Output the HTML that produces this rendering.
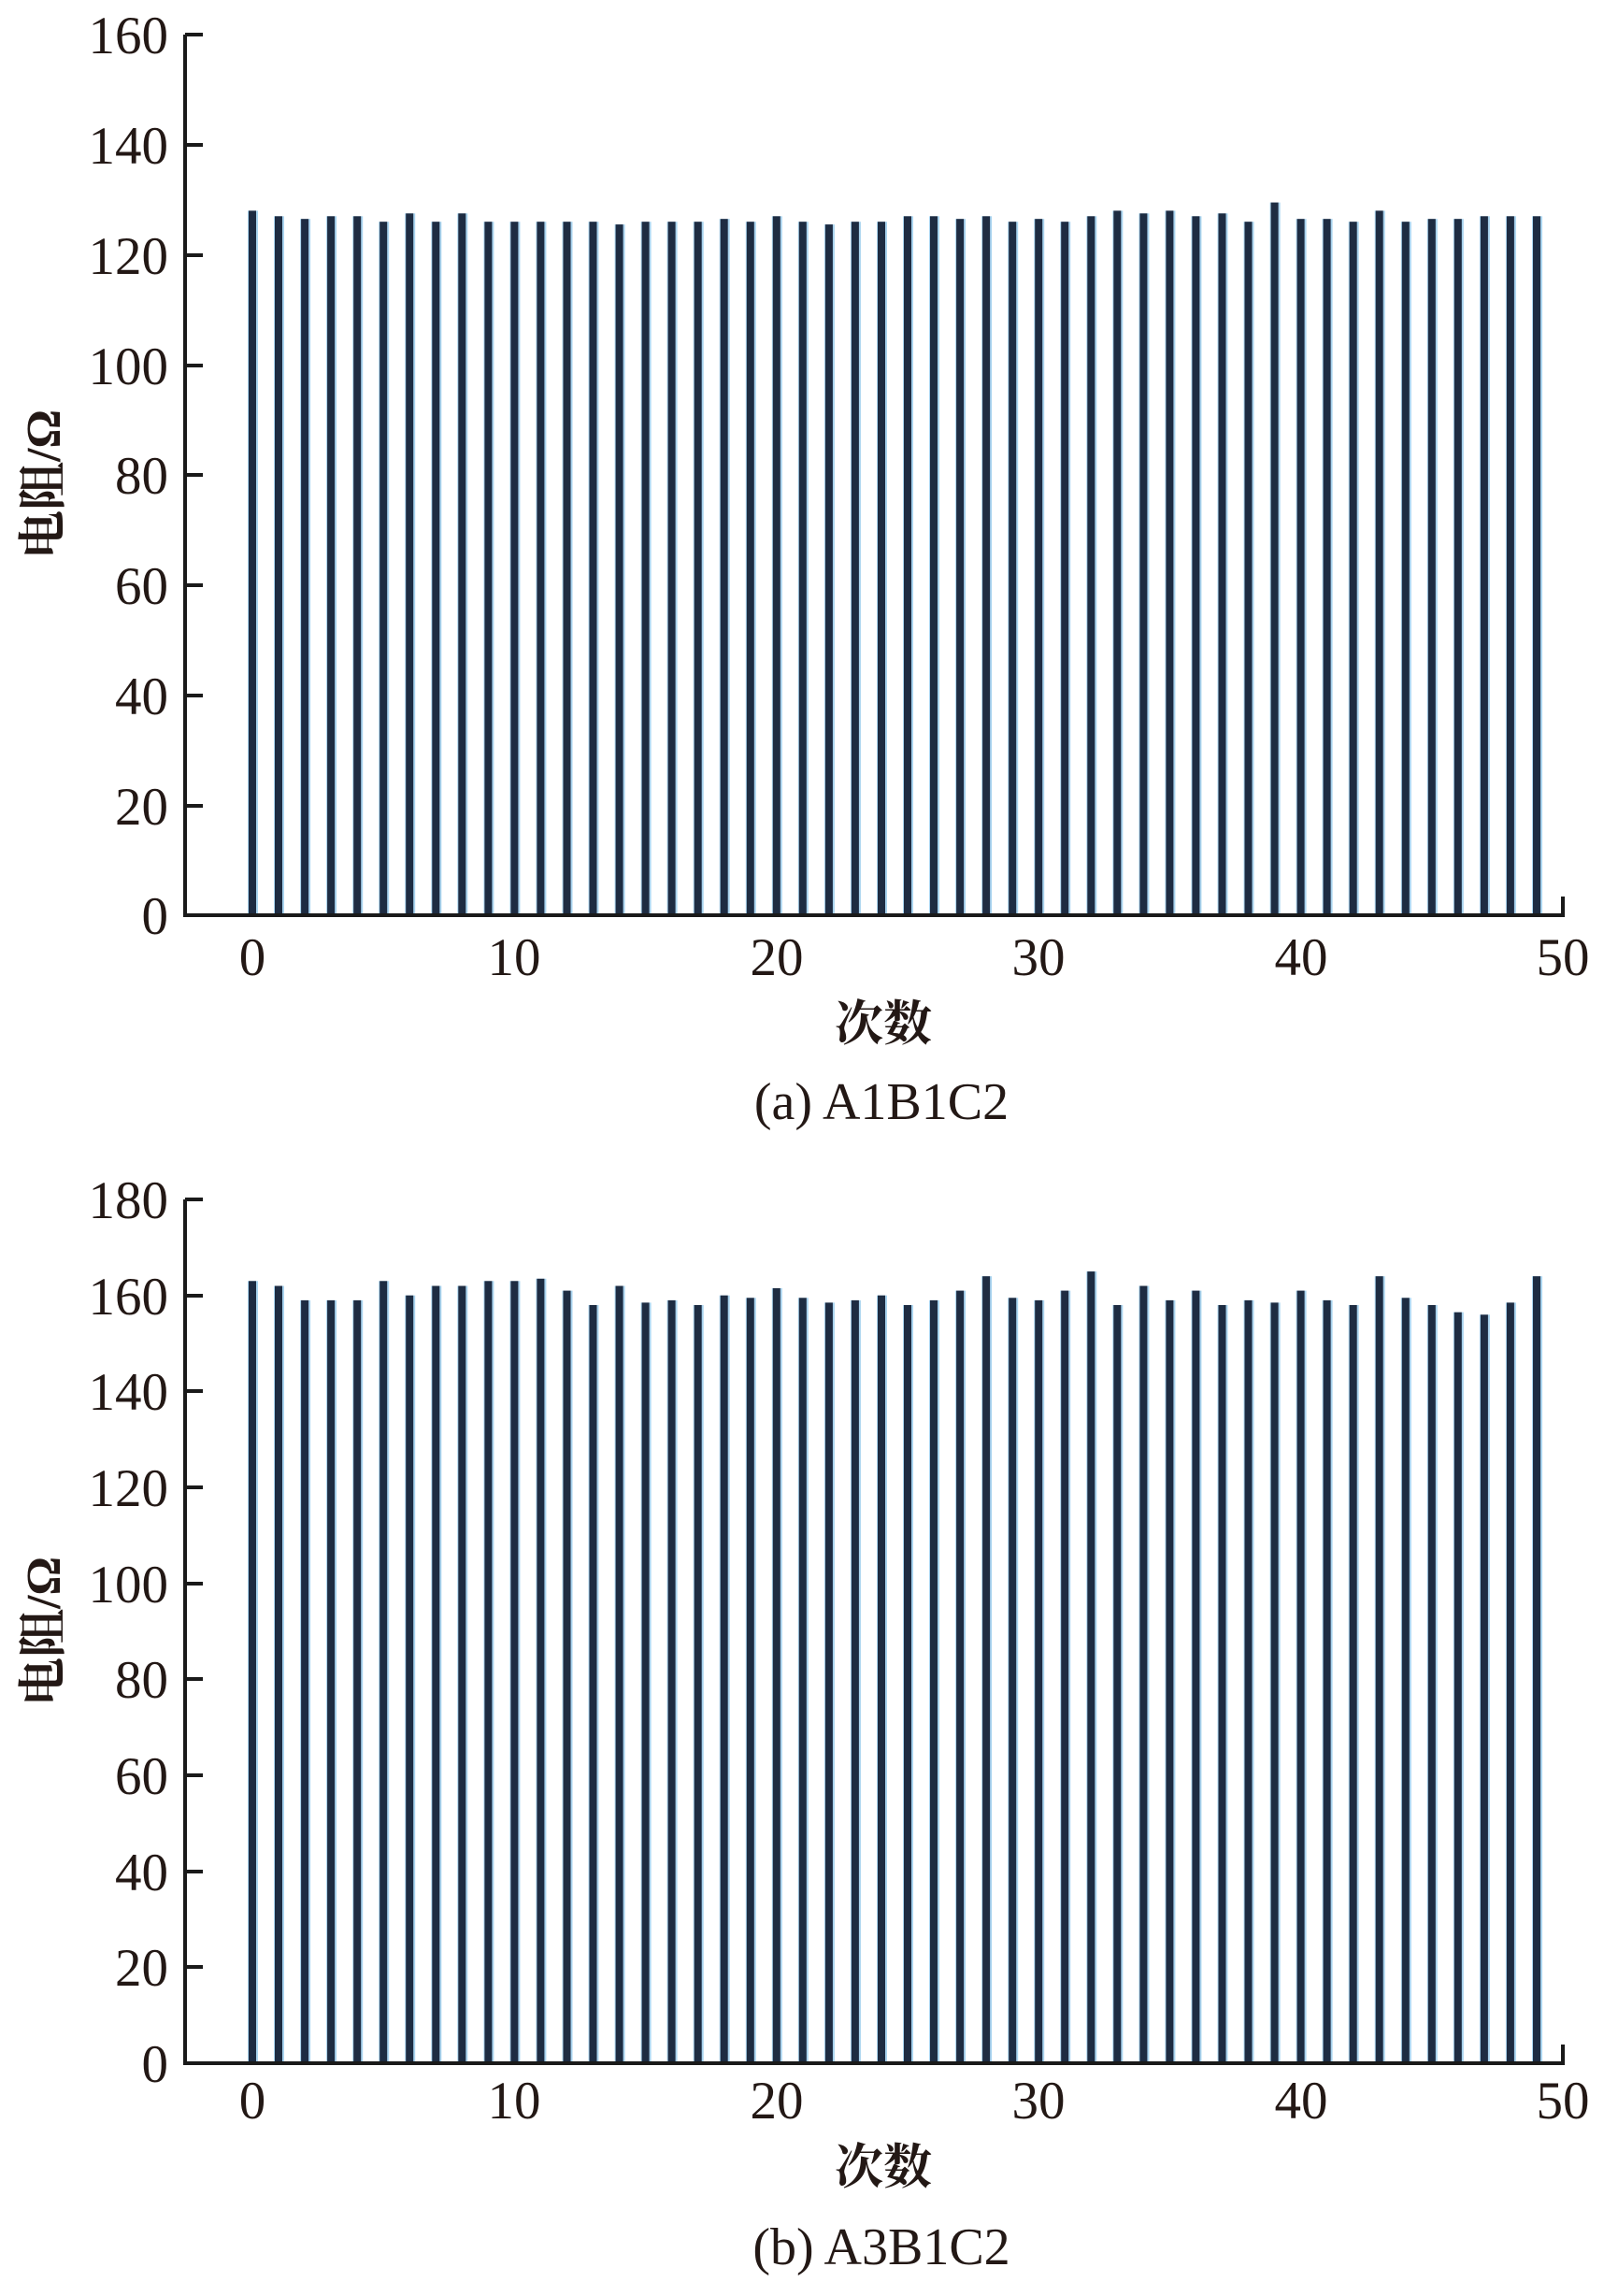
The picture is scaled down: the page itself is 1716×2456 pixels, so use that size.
<!DOCTYPE html>
<html><head><meta charset="utf-8"><style>
html,body{margin:0;padding:0;background:#fff;}
svg{display:block;}
.t{font-family:"Liberation Serif",serif;font-size:57px;fill:#231815;}
.c{font-family:"Liberation Serif","Noto Serif CJK SC",serif;font-size:52px;fill:#231815;font-weight:bold;}
.cap{font-family:"Liberation Serif",serif;font-size:56px;fill:#231815;}
</style></head><body>
<svg id="s" width="1716" height="2456" viewBox="0 0 1716 2456" xmlns="http://www.w3.org/2000/svg">
<g id="bars"></g>
<g stroke="#1a1a1a" stroke-width="4" fill="none">
<path d="M198 37 V979 H1672 V959"/>
<path d="M198 37 H217 M198 155 H217 M198 273 H217 M198 391 H217 M198 508 H217 M198 626 H217 M198 744 H217 M198 862 H217"/>
<path d="M198 1283 V2207 H1672 V2187"/>
<path d="M198 1283 H217 M198 1386 H217 M198 1488 H217 M198 1591 H217 M198 1694 H217 M198 1796 H217 M198 1899 H217 M198 2002 H217 M198 2104 H217"/>
</g>
<g class="t" text-anchor="end">
<text x="180" y="57">160</text><text x="180" y="175">140</text><text x="180" y="293">120</text>
<text x="180" y="411">100</text><text x="180" y="528">80</text><text x="180" y="646">60</text>
<text x="180" y="764">40</text><text x="180" y="882">20</text><text x="180" y="999">0</text>
<text x="180" y="1303">180</text><text x="180" y="1406">160</text><text x="180" y="1508">140</text>
<text x="180" y="1611">120</text><text x="180" y="1714">100</text><text x="180" y="1816">80</text>
<text x="180" y="1919">60</text><text x="180" y="2022">40</text><text x="180" y="2124">20</text>
<text x="180" y="2227">0</text>
</g>
<g class="t" text-anchor="middle">
<text x="270" y="1043">0</text><text x="550" y="1043">10</text><text x="831" y="1043">20</text>
<text x="1111" y="1043">30</text><text x="1392" y="1043">40</text><text x="1672" y="1043">50</text>
<text x="270" y="2266">0</text><text x="550" y="2266">10</text><text x="831" y="2266">20</text>
<text x="1111" y="2266">30</text><text x="1392" y="2266">40</text><text x="1672" y="2266">50</text>
</g>
<text class="c" x="945" y="1113" text-anchor="middle">次数</text>
<text class="c" x="945" y="2336" text-anchor="middle">次数</text>
<text class="cap" x="943" y="1197" text-anchor="middle">(a) A1B1C2</text>
<text class="cap" x="943" y="2422" text-anchor="middle">(b) A3B1C2</text>
<text class="c" transform="translate(64,518) rotate(-90)" text-anchor="middle">电阻/Ω</text>
<text class="c" transform="translate(64,1745) rotate(-90)" text-anchor="middle">电阻/Ω</text>
</svg>
<script>
var a=[128,127,126.5,127,127,126,127.5,126,127.5,126,126,126,126,126,125.5,126,126,126,126.5,126,127,126,125.5,126,126,127,127,126.5,127,126,126.5,126,127,128,127.5,128,127,127.5,126,129.5,126.5,126.5,126,128,126,126.5,126.5,127,127,127];
var b=[163,162,159,159,159,163,160,162,162,163,163,163.5,161,158,162,158.5,159,158,160,159.5,161.5,159.5,158.5,159,160,158,159,161,164,159.5,159,161,165,158,162,159,161,158,159,158.5,161,159,158,164,159.5,158,156.5,156,158.5,164];
var g=document.getElementById('bars'),h='';
function draw(v,y0,k){for(var i=0;i<50;i++){var x=270+i*28.04,top=y0-v[i]*k;
h+='<rect x="'+(x-5).toFixed(1)+'" y="'+top.toFixed(1)+'" width="11" height="'+(y0-top).toFixed(1)+'" fill="#a9d4ef"/>';
h+='<rect x="'+(x-4).toFixed(1)+'" y="'+top.toFixed(1)+'" width="8" height="'+(y0-top).toFixed(1)+'" fill="#1e2c42"/>';}}
draw(a,979,5.8875);draw(b,2207,5.133);
g.innerHTML=h;
</script>
</body></html>
